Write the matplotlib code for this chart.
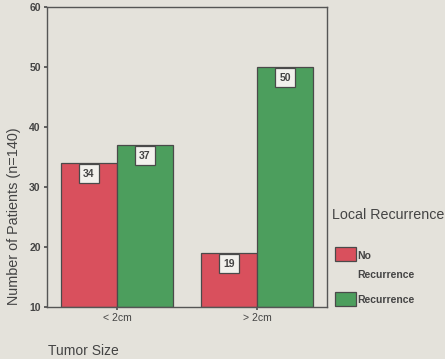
import matplotlib
matplotlib.use("Agg")
import matplotlib.pyplot as plt
from matplotlib.patches import Rectangle
import numpy as np

plt.rcParams['font.family'] = ['Liberation Sans', 'DejaVu Sans']

# tumor size groups and patient counts per recurrence status
categories = ['< 2cm', '> 2cm']
no_recurrence = [34, 19]
recurrence = [37, 50]
yticks = [10, 20, 30, 40, 50, 60]

bg = '#e4e2db'
red = '#d9505d'
green = '#4c9e5d'
edge = '#4a4a4a'
txt = '#444444'

W, H = 445, 359
fig = plt.figure(figsize=(W / 100, H / 100), dpi=100, facecolor=bg)
ax = fig.add_axes([47 / W, 1 - 307 / H, 280 / W, 300 / H])
ax.set_facecolor(bg)

x = np.arange(len(categories))
width = 0.4
bars_no = ax.bar(x - width / 2, [v - 10 for v in no_recurrence], width, bottom=10,
                 color=red, edgecolor=edge, linewidth=0.9)
bars_yes = ax.bar(x + width / 2, [v - 10 for v in recurrence], width, bottom=10,
                  color=green, edgecolor=edge, linewidth=0.9)

# value labels in small white boxes under the top of each bar
for bars, vals in [(bars_no, no_recurrence), (bars_yes, recurrence)]:
    for b, v in zip(bars, vals):
        ax.annotate(str(v), (b.get_x() + b.get_width() / 2, v), xytext=(0, -7.6),
                    textcoords='offset points', ha='center', va='center',
                    fontsize=7.5, color=txt, fontweight='bold',
                    bbox=dict(boxstyle='square,pad=0.42', fc='#f2f1ed', ec=edge, lw=0.9))

ax.set_xlim(-0.5, 1.5)
ax.set_ylim(10, 60)
ax.set_xticks(x)
ax.set_xticklabels(categories)
ax.set_yticks(yticks)
ax.tick_params(axis='both', length=2.5, width=1.2, color=edge, labelsize=7.5,
               labelcolor=txt, pad=2)
for s in ax.spines.values():
    s.set_color('#555555')
    s.set_linewidth(1.0)
for lab in ax.get_yticklabels():
    lab.set_fontweight('bold')

fig.text(14 / W, 1 - 216 / H, 'Number of Patients (n=140)', rotation=90,
         ha='center', va='center', fontsize=10.4, color=txt)
fig.text(48 / W, 1 - 351 / H, 'Tumor Size', ha='left', va='center',
         fontsize=10, color=txt)

# legend drawn by hand
fig.text(332 / W, 1 - 215 / H, 'Local Recurrence', ha='left', va='center',
         fontsize=10.3, color=txt)
for y0, c in [(247, red), (292, green)]:
    fig.patches.append(Rectangle((335 / W, 1 - (y0 + 14) / H), 21 / W, 14 / H,
                                 transform=fig.transFigure, fc=c, ec=edge, lw=0.9))
fig.text(357 / W, 1 - 256 / H, 'No', ha='left', va='center', fontsize=7.5,
         color=txt, fontweight='bold')
fig.text(357 / W, 1 - 275 / H, 'Recurrence', ha='left', va='center', fontsize=7.5,
         color=txt, fontweight='bold')
fig.text(357 / W, 1 - 300 / H, 'Recurrence', ha='left', va='center', fontsize=7.5,
         color=txt, fontweight='bold')

fig.savefig('out.png', dpi=100, facecolor=bg)
